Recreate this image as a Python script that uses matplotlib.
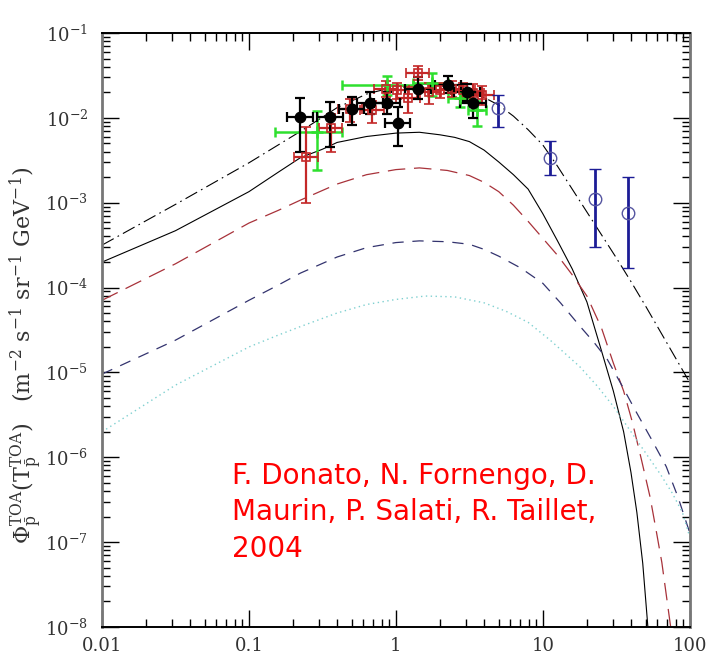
import numpy as np
import matplotlib
matplotlib.use("Agg")
import matplotlib.pyplot as plt

plt.rcParams["mathtext.fontset"] = "dejavuserif"

# model curves, log10(T) vs log10(flux)
logt_dd = [-2, -1.5, -1.0, -0.65, -0.4, -0.2, 0, 0.2, 0.4, 0.6, 0.7, 0.8, 0.9, 1.0, 1.1, 1.2,
           1.3, 1.4, 1.5, 1.6, 1.7, 1.8, 1.9, 2.0]
logf_dd = [-3.50, -3.02, -2.53, -2.16, -1.88, -1.72, -1.63, -1.60, -1.64, -1.76, -1.85, -1.98,
           -2.14, -2.32, -2.57, -2.84, -3.11, -3.38, -3.65, -3.93, -4.22, -4.52, -4.82, -5.12]

logt_solid = [-2, -1.5, -1.0, -0.8, -0.65, -0.5, -0.4, -0.2, 0, 0.16, 0.3, 0.4, 0.5, 0.6, 0.7,
              0.8, 0.9, 1.0, 1.1, 1.2, 1.3, 1.4, 1.48, 1.55, 1.6, 1.64, 1.68, 1.715]
logf_solid = [-3.70, -3.33, -2.87, -2.64, -2.47, -2.37, -2.29, -2.22, -2.18, -2.17, -2.20, -2.23,
              -2.28, -2.38, -2.52, -2.67, -2.84, -3.13, -3.45, -3.78, -4.17, -4.75, -5.22,
              -5.70, -6.18, -6.65, -7.25, -8.0]

logt_red = [-2, -1.5, -1.0, -0.8, -0.65, -0.4, -0.2, 0, 0.16, 0.35, 0.5, 0.6, 0.7, 0.8, 0.9,
            1.0, 1.1, 1.2, 1.3, 1.4, 1.48, 1.55, 1.61, 1.67, 1.73, 1.77, 1.81, 1.84, 1.87]
logf_red = [-4.15, -3.72, -3.24, -3.09, -2.97, -2.78, -2.67, -2.61, -2.59, -2.62, -2.68, -2.76,
            -2.87, -3.03, -3.22, -3.42, -3.62, -3.85, -4.10, -4.48, -4.89, -5.22, -5.59, -6.02,
            -6.47, -6.85, -7.24, -7.62, -8.0]

logt_blue = [-2, -1.5, -1.0, -0.8, -0.65, -0.4, -0.2, 0, 0.16, 0.35, 0.5, 0.6, 0.7, 0.85, 1.0,
             1.12, 1.25, 1.35, 1.44, 1.54, 1.64, 1.74, 1.84, 1.92, 2.0]
logf_blue = [-5.02, -4.62, -4.15, -3.97, -3.83, -3.64, -3.53, -3.47, -3.45, -3.46, -3.49, -3.55,
             -3.63, -3.77, -3.95, -4.18, -4.45, -4.65, -4.85, -5.16, -5.48, -5.79, -6.11, -6.47,
             -6.89]

logt_cyan = [-2, -1.5, -1.0, -0.8, -0.65, -0.4, -0.2, 0, 0.2, 0.4, 0.6, 0.75, 0.9, 1.05, 1.25,
             1.37, 1.48, 1.6, 1.7, 1.8, 1.88, 1.95, 2.0]
logf_cyan = [-5.70, -5.15, -4.70, -4.56, -4.46, -4.30, -4.20, -4.14, -4.10, -4.11, -4.18, -4.28,
             -4.41, -4.62, -4.93, -5.16, -5.40, -5.70, -5.95, -6.20, -6.42, -6.65, -6.94]

# black filled points
bk_t = [0.222, 0.356, 0.50, 0.665, 0.87, 1.03, 1.41, 2.26, 3.04, 3.34]
bk_f = [0.0103, 0.0102, 0.0126, 0.0150, 0.0150, 0.0087, 0.0220, 0.0245, 0.0200, 0.0150]
bk_lo = [0.0040, 0.0045, 0.0083, 0.0110, 0.0110, 0.0046, 0.0165, 0.0195, 0.0160, 0.0100]
bk_hi = [0.0170, 0.0155, 0.0178, 0.0200, 0.0200, 0.0135, 0.0300, 0.0310, 0.0250, 0.0200]

# red open squares
rd_t = [0.244, 0.36, 0.49, 0.69, 0.855, 1.02, 1.21, 1.41, 1.68, 1.99, 2.4, 2.86, 3.34, 3.85]
rd_f = [0.0035, 0.0076, 0.0126, 0.0123, 0.0220, 0.0210, 0.0170, 0.0340, 0.0200, 0.0210, 0.0220,
        0.0210, 0.0196, 0.0186]
rd_lo = [0.0010, 0.0040, 0.0090, 0.0088, 0.0175, 0.0165, 0.0115, 0.0280, 0.0145, 0.0170, 0.0175,
         0.0165, 0.0150, 0.0140]
rd_hi = [0.0078, 0.0110, 0.0165, 0.0160, 0.0270, 0.0260, 0.0230, 0.0410, 0.0260, 0.0260, 0.0270,
         0.0260, 0.0250, 0.0240]

# green crosses, wide energy bins
gr_t = [0.29, 0.87, 1.76, 2.72, 3.56]
gr_tlo = [0.15, 0.43, 1.30, 2.26, 3.10]
gr_thi = [0.43, 1.30, 2.26, 3.30, 4.10]
gr_f = [0.0068, 0.0244, 0.0260, 0.0170, 0.0123]
gr_lo = [0.0024, 0.0185, 0.0180, 0.0135, 0.0080]
gr_hi = [0.0120, 0.0310, 0.0340, 0.0220, 0.0160]

# blue open circles at high energy
bl_t = [4.94, 11.2, 22.6, 37.9]
bl_f = [0.0131, 0.0034, 0.00111, 0.00076]
bl_lo = [0.0078, 0.0021, 0.00030, 0.00017]
bl_hi = [0.0187, 0.0053, 0.00250, 0.00200]

author_text = "F. Donato, N. Fornengo, D.\nMaurin, P. Salati, R. Taillet,\n2004"


def asym(val, lo, hi):
    val = np.array(val)
    return [val - np.array(lo), np.array(hi) - val]


fig = plt.figure(figsize=(7.06, 6.57), dpi=100)
ax = fig.add_axes([0.1445, 0.0457, 0.8325, 0.9041])
ax.set_xscale("log")
ax.set_yscale("log")

ax.plot(10 ** np.array(logt_dd), 10 ** np.array(logf_dd), color="black", lw=0.8,
        dashes=(12, 4, 1.5, 4))
ax.plot(10 ** np.array(logt_solid), 10 ** np.array(logf_solid), color="black", lw=0.8)
ax.plot(10 ** np.array(logt_red), 10 ** np.array(logf_red), color="#a8323a", lw=0.9,
        dashes=(14, 7))
ax.plot(10 ** np.array(logt_blue), 10 ** np.array(logf_blue), color="#33336e", lw=0.9,
        dashes=(9, 7))
ax.plot(10 ** np.array(logt_cyan), 10 ** np.array(logf_cyan), color="#7fd0d0", lw=1.0,
        dashes=(1, 2.5))

ax.errorbar(gr_t, gr_f, xerr=asym(gr_t, gr_tlo, gr_thi), yerr=asym(gr_f, gr_lo, gr_hi),
            fmt="+", color="#2ee02e", ms=8, mew=1.8, elinewidth=1.8, capsize=3.5, capthick=1.8)
ax.errorbar(rd_t, rd_f, xerr=[np.array(rd_t) * 0.17, np.array(rd_t) * 0.2],
            yerr=asym(rd_f, rd_lo, rd_hi), fmt="s", mfc="none", mec="#c42828", ms=6, mew=1.2,
            color="#c42828", elinewidth=1.6, capsize=3.5, capthick=1.6)
ax.errorbar(bk_t, bk_f, xerr=[np.array(bk_t) * 0.18, np.array(bk_t) * 0.22],
            yerr=asym(bk_f, bk_lo, bk_hi), fmt="o", color="black", ms=7.5, elinewidth=1.6,
            capsize=3.5, capthick=1.6)
ax.errorbar(bl_t, bl_f, yerr=asym(bl_f, bl_lo, bl_hi), fmt="o", mfc="none", mec="#5555a0",
            ms=9, mew=1.0, color="#1c1c96", elinewidth=2.0, capsize=4.5, capthick=2.0)

ax.set_xlim(0.01, 100)
ax.set_ylim(1e-8, 1e-1)
ax.set_xticks([0.01, 0.1, 1, 10, 100])
ax.set_xticklabels(["0.01", "0.1", "1", "10", "100"])
ax.set_yticks([10.0 ** k for k in range(-8, 0)])
ax.set_yticklabels([r"$\mathregular{10^{%d}}$" % k for k in range(-8, 0)])

for lab in ax.get_xticklabels() + ax.get_yticklabels():
    lab.set_family("DejaVu Serif")
    lab.set_fontsize(13)
    lab.set_color("#333333")

ax.tick_params(which="both", direction="in", top=True, right=True)
ax.tick_params(which="major", length=12, width=1.0, pad=7)
ax.tick_params(which="minor", length=6, width=1.0)
ax.tick_params(axis="y", which="major", pad=10)

for side in ["left", "right"]:
    ax.spines[side].set_color("#777777")
    ax.spines[side].set_linewidth(2.0)
for side in ["top", "bottom"]:
    ax.spines[side].set_color("black")
    ax.spines[side].set_linewidth(1.4)

fig.text(0.036, 0.46,
         r"$\Phi_{\bar{\mathrm{p}}}^{\mathrm{TOA}}(\mathrm{T}_{\bar{\mathrm{p}}}^{\mathrm{TOA}})$"
         r"   $(\mathrm{m^{-2}\ s^{-1}\ sr^{-1}\ GeV^{-1}})$",
         rotation=90, ha="center", va="center", fontsize=16, color="#333333",
         family="DejaVu Serif")

ax.text(0.222, 0.108, author_text, transform=ax.transAxes, color="red", fontsize=20,
        family="DejaVu Sans", linespacing=1.38, va="bottom", ha="left")

fig.savefig("out.png", dpi=100)
